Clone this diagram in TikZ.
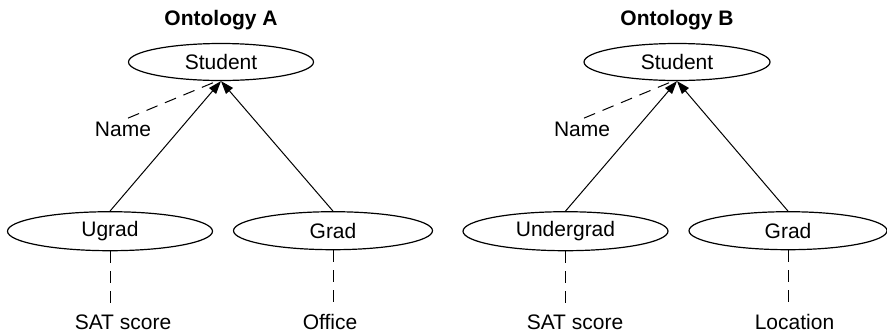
\documentclass[tikz,border=0pt]{standalone}
\usepackage{fontspec}
\setmainfont{Liberation Sans}
\usetikzlibrary{shapes.geometric,arrows.meta,positioning}
\tikzset{
  % Class ellipse
  CL/.style={ellipse,draw,line width=0.6pt,inner sep=0pt,
             minimum height=19.5pt},
  % Ontology title
  TT/.style={font=\fontsize{10.5}{12.6}\selectfont\bfseries,inner sep=2pt},
  % Attribute text
  AT/.style={inner sep=2pt},
  % Subclass arrow
  arr/.style={-{Triangle[length=6.5pt,width=4.5pt]},line width=0.5pt},
  % Attribute link
  dsh/.style={line width=0.5pt,dash pattern=on 6pt off 4pt}
}
\begin{document}
\begin{tikzpicture}[font=\fontsize{10.5}{12.6}\selectfont]
  \useasboundingbox (0,0) rectangle (443.5pt,-166.5pt);

  % Ontology A
  \node[CL,minimum width=92.5pt,minimum height=18.5pt] (studA) at (110.5pt,-31pt) {Student};
  \node[TT,above=4.5pt of studA]                        (ontA)   {Ontology A};
  \node[CL,minimum width=102.5pt,below=65pt of studA,xshift=-55.5pt] (ugrad) {Ugrad};
  \node[CL,minimum width=99.5pt,minimum height=19pt,below=65pt of studA,xshift=56pt] (gradA) {Grad};
  \node[AT,below=18.5pt of studA,xshift=-49pt] (nameA)  {Name};
  \node[AT,below=29.8pt of ugrad,xshift=6.5pt]   (satA)   {SAT score};
  \node[AT,below=29.8pt of gradA,xshift=-1.5pt]  (office) {Office};

  \draw[arr](ugrad.north)--(studA.south);
  \draw[arr](gradA.north)--(studA.south);
  \draw[dsh]([xshift=2.5pt]nameA.north)--([xshift=-2pt]studA.south);
  \draw[dsh,shorten >=2.8pt](ugrad.south)--(ugrad.south |- satA.north);
  \draw[dsh,shorten >=2.8pt](gradA.south)--(gradA.south |- office.north);

  % Ontology B
  \node[CL,minimum width=93pt,minimum height=18.5pt] (studB) at (338.5pt,-31pt) {Student};
  \node[TT,above=4.5pt of studB]                      (ontB)   {Ontology B};
  \node[CL,minimum width=102.5pt,below=65pt of studB,xshift=-55.75pt] (undergrad) {Undergrad};
  \node[CL,minimum width=99pt,minimum height=19pt,below=65pt of studB,xshift=55.5pt] (gradB) {Grad};
  \node[AT,below=18.5pt of studB,xshift=-47.5pt] (nameB)    {Name};
  \node[AT,below=29.8pt of undergrad,xshift=4.75pt] (satB)    {SAT score};
  \node[AT,below=29.8pt of gradB,xshift=3.25pt]    (location) {Location};

  \draw[arr](undergrad.north)--(studB.south);
  \draw[arr](gradB.north)--(studB.south);
  \draw[dsh]([xshift=1pt]nameB.north)--([xshift=-2pt]studB.south);
  \draw[dsh,shorten >=2.8pt](undergrad.south)--(undergrad.south |- satB.north);
  \draw[dsh,shorten >=2.8pt](gradB.south)--(gradB.south |- location.north);
\end{tikzpicture}
\end{document}
